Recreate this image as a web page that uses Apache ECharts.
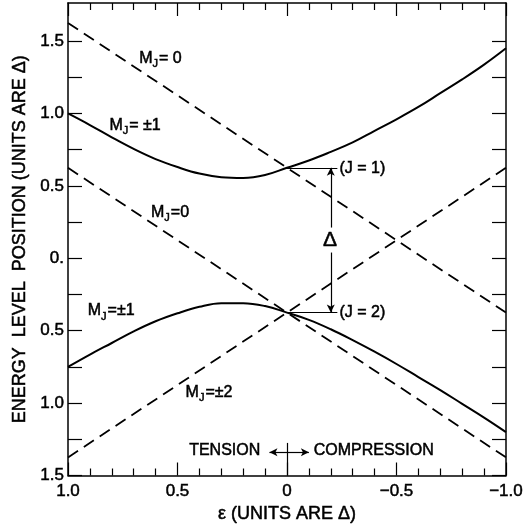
<!DOCTYPE html>
<html><head><meta charset="utf-8">
<script src="https://cdn.jsdelivr.net/npm/echarts@6/dist/echarts.min.js"></script>
<style>html,body{margin:0;padding:0;background:#fff}#c{width:526px;height:529px}</style>
</head><body><div id="c"></div>
<script>
// strain epsilon (units of Delta), positive = tension (left)
const eps = [1.0,0.9,0.8,0.7,0.6,0.5,0.4,0.3,0.2,0.1,0.0,-0.1,-0.2,-0.3,-0.4,-0.5,-0.6,-0.7,-0.8,-0.9,-1.0];
// solid curves, M_J = ±1 mixed levels
const upperPM1 = [1.00,0.92,0.835,0.755,0.685,0.63,0.585,0.56,0.555,0.575,0.625,0.675,0.735,0.80,0.88,0.96,1.045,1.14,1.235,1.337,1.45];
const lowerPM1 = [-0.75,-0.665,-0.585,-0.505,-0.435,-0.38,-0.335,-0.31,-0.31,-0.33,-0.375,-0.425,-0.49,-0.565,-0.645,-0.73,-0.82,-0.91,-1.005,-1.10,-1.20];
// dashed straight levels (eps = 1, 0, -1)
const epsLine = [1.0, 0.0, -1.0];
const upperM0 = [1.625, 0.625, -0.375];
const lowerM0 = [0.625, -0.375, -1.375];
const levelPM2 = [-1.375, -0.375, 0.625];
const xTickLabels = [1.0, 0.5, 0, -0.5, -1.0];
const yTickLabels = [-1.5, -1.0, -0.5, 0, 0.5, 1.0, 1.5];
const yTicks = [-1.5,-1.25,-1.0,-0.75,-0.5,-0.25,0,0.25,0.5,0.75,1.0,1.25,1.5];
const J1 = 0.625, J2 = -0.375;

const pair = (xs, ys) => xs.map((x, i) => [x, ys[i]]);
const INK = '#000';
const FONT = 'Liberation Sans, Arial, sans-serif';
const TB = { textBorderColor: INK, textBorderWidth: 0.5 };

function xFmt(v){ if (Math.abs(v) < 1e-9) return '0'; return v > 0 ? v.toFixed(1) : '\u2212' + (-v).toFixed(1); }
function yFmt(v){ if (Math.abs(v) < 1e-9) return '0.'; return Math.abs(v).toFixed(1); }

const xBase = {
  type: 'value', min: -1, max: 1, interval: 0.5, inverse: true,
  axisLine: { show: true, onZero: false, lineStyle: { color: INK, width: 1.5 } },
  axisTick: { show: true, inside: true, length: 13, lineStyle: { color: INK, width: 1.2 } },
  minorTick: { show: true, splitNumber: 5, length: 7, lineStyle: { color: INK, width: 1.2 } },
  splitLine: { show: false }, minorSplitLine: { show: false }
};
const yBase = {
  type: 'value', min: -1.5, max: 1.763, interval: 0.25,
  axisLine: { show: true, onZero: false, lineStyle: { color: INK, width: 1.5 } },
  axisTick: { show: true, inside: true, length: 14, customValues: yTicks, lineStyle: { color: INK, width: 1.2 } },
  splitLine: { show: false }
};

const rich = {
  m: Object.assign({ fontSize: 16, fontFamily: FONT, color: INK, lineHeight: 22, verticalAlign: 'middle' }, TB),
  s: Object.assign({ fontSize: 11, fontFamily: FONT, color: INK, lineHeight: 22, verticalAlign: 'bottom', padding: [0,1,0,0] }, TB),
  t: Object.assign({ fontSize: 16, fontFamily: FONT, color: INK, lineHeight: 22 }, TB),
  d: Object.assign({ fontSize: 21, fontFamily: FONT, color: INK, backgroundColor: '#fff', padding: [2,1,2,1] }, TB)
};
// annotation texts placed in data coordinates
const notes = [
  [0.675, 1.378, '{m|M}{s|J}{m|= 0}', 'left'],
  [0.811, 0.914, '{m|M}{s|J}{m|= \u00b11}', 'left'],
  [0.621, 0.313, '{m|M}{s|J}{m|=0}', 'left'],
  [0.910, -0.364, '{m|M}{s|J}{m|=\u00b11}', 'left'],
  [0.463, -0.930, '{m|M}{s|J}{m|=\u00b12}', 'left'],
  [-0.240, 0.617, '{t|(J = 1)}', 'left'],
  [-0.240, -0.378, '{t|(J = 2)}', 'left'],
  [-0.197, 0.126, '{d|\u0394}', 'center'],
  [0.122, -1.331, '{t|TENSION}', 'right'],
  [-0.122, -1.331, '{t|COMPRESSION}', 'left']
];

const thin = { color: INK, width: 1.2, type: 'solid' };
const arrows = [
  [{ coord: [0, J1], symbol: 'none' }, { coord: [-0.23, J1], symbol: 'none' }],
  [{ coord: [0, J2], symbol: 'none' }, { coord: [-0.23, J2], symbol: 'none' }],
  [{ coord: [-0.2, 0.19], symbol: 'none' }, { coord: [-0.2, J1], symbol: 'arrow' }],
  [{ coord: [-0.2, 0.06], symbol: 'none' }, { coord: [-0.2, J2], symbol: 'arrow' }],
  [{ coord: [0, -1.34], symbol: 'none' }, { coord: [0.08, -1.34], symbol: 'arrow' }],
  [{ coord: [0, -1.34], symbol: 'none' }, { coord: [-0.10, -1.34], symbol: 'arrow' }],
  [{ coord: [0, -1.275], symbol: 'none' }, { coord: [0, -1.5], symbol: 'none' }]
];

const dashed = { color: INK, width: 1.8, type: [12, 7] };
const solid = { color: INK, width: 2, type: 'solid' };
const axisText = Object.assign({ fontSize: 17, fontFamily: FONT, color: INK }, TB);

const option = {
  backgroundColor: '#fff',
  animation: false,
  grid: { left: 68, right: 14.5, top: 3, bottom: 53.5 },
  xAxis: [
    Object.assign({}, xBase, {
      position: 'bottom',
      axisLabel: Object.assign({ show: true, customValues: xTickLabels, formatter: xFmt, margin: 7 }, axisText),
      name: '\u03b5 (UNITS ARE \u0394)', nameLocation: 'middle', nameGap: 29,
      nameTextStyle: Object.assign({ fontSize: 18, fontFamily: FONT, color: INK }, TB)
    }),
    Object.assign({}, xBase, { position: 'top', axisLabel: { show: false } })
  ],
  yAxis: [
    Object.assign({}, yBase, {
      position: 'left',
      axisLabel: Object.assign({ show: true, customValues: yTickLabels, formatter: yFmt, margin: 4 }, axisText),
      name: 'ENERGY  LEVEL  POSITION (UNITS ARE \u0394)', nameLocation: 'middle', nameGap: 30, nameRotate: 90,
      nameTextStyle: Object.assign({ fontSize: 18, fontFamily: FONT, color: INK }, TB)
    }),
    Object.assign({}, yBase, { position: 'right', axisLabel: { show: false } })
  ],
  series: [
    { type: 'line', data: pair(epsLine, upperM0), symbol: 'none', lineStyle: dashed, silent: true },
    { type: 'line', data: pair(epsLine, lowerM0), symbol: 'none', lineStyle: dashed, silent: true },
    { type: 'line', data: pair(epsLine, levelPM2), symbol: 'none', lineStyle: dashed, silent: true },
    { type: 'line', data: pair(eps, upperPM1), symbol: 'none', smooth: 0.4, lineStyle: solid, silent: true },
    { type: 'line', data: pair(eps, lowerPM1), symbol: 'none', smooth: 0.4, lineStyle: solid, silent: true,
      markLine: { silent: true, symbolSize: [6, 8], label: { show: false }, lineStyle: thin, data: arrows, emphasis: { disabled: true } } },
    { type: 'scatter', symbolSize: 0, silent: true, z: 10, itemStyle: { color: INK, opacity: 1 },
      data: notes.map(n => ({ value: [n[0], n[1]], label: { show: true, color: INK, opacity: 1, formatter: n[2], rich: rich, position: [0, 0], align: n[3], verticalAlign: 'middle' } })) }
  ]
};
echarts.init(document.getElementById('c'), null, { renderer: 'canvas' }).setOption(option);
</script></body></html>
